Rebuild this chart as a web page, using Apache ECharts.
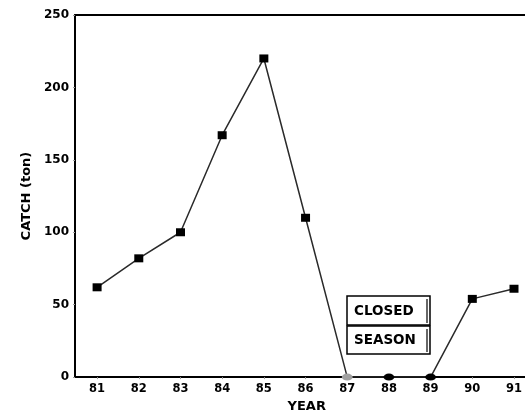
<!DOCTYPE html>
<html>
<head>
<meta charset="utf-8">
<script src="https://cdn.jsdelivr.net/npm/echarts@6/dist/echarts.min.js"></script>
<style>
  html, body { margin: 0; padding: 0; background: #fff; }
  #chart { width: 525px; height: 418px; }
</style>
</head>
<body>
<div id="chart"></div>
<script>
// Annual catch by fishing year
const years = [81, 82, 83, 84, 85, 86, 87, 88, 89, 90, 91];
const catchTon = [62, 82, 100, 167, 220, 110, 0, 0, 0, 54, 61];
// Years with the fishery closed
const closedYears = [87, 88, 89];
const yTicks = [0, 50, 100, 150, 200, 250];

const FONT = '"DejaVu Sans", "Liberation Sans", Arial, sans-serif';

const points = years.map((yr, i) => {
  const closed = closedYears.includes(yr);
  return {
    value: [yr, catchTon[i]],
    symbol: closed ? 'circle' : 'rect',
    symbolSize: closed ? [11, 7] : [9, 8],
    itemStyle: { color: yr === 87 ? '#a0a0a0' : '#000' }
  };
});

const chart = echarts.init(document.getElementById('chart'));
chart.setOption({
  animation: false,
  grid: { left: 75, right: 0, top: 15, bottom: 36, containLabel: false },
  xAxis: [{
    type: 'value',
    min: 80.47,
    max: 91.25,
    name: 'YEAR',
    nameLocation: 'middle',
    nameGap: 21,
    nameTextStyle: { fontFamily: FONT, fontWeight: 'bold', fontSize: 13, color: '#000', padding: [0, 0, 0, 14] },
    axisLine: { lineStyle: { color: '#000', width: 2 } },
    axisTick: { show: true, customValues: years, length: 2, lineStyle: { color: '#999', width: 1 } },
    axisLabel: { customValues: years, fontFamily: FONT, fontWeight: 'bold', fontSize: 11.5, color: '#000', margin: 6 },
    splitLine: { show: false }
  }, {
    type: 'value',
    position: 'top',
    min: 80.47,
    max: 91.25,
    axisLine: { show: true, onZero: false, lineStyle: { color: '#000', width: 2 } },
    axisTick: { show: false },
    axisLabel: { show: false },
    splitLine: { show: false }
  }],
  yAxis: {
    type: 'value',
    min: yTicks[0],
    max: yTicks[yTicks.length - 1],
    interval: 50,
    name: 'CATCH (ton)',
    nameLocation: 'middle',
    nameGap: 38,
    nameRotate: 90,
    nameTextStyle: { fontFamily: FONT, fontWeight: 'bold', fontSize: 13, color: '#000' },
    axisLine: { show: true, lineStyle: { color: '#000', width: 2 } },
    axisTick: { show: true, length: 2, lineStyle: { color: '#999', width: 1 } },
    axisLabel: { fontFamily: FONT, fontWeight: 'bold', fontSize: 12, color: '#000', margin: 6 },
    splitLine: { show: false }
  },
  series: [{
    type: 'line',
    data: points,
    lineStyle: { color: '#2a2a2a', width: 1.5 },
    z: 3
  }],
  graphic: [
    { type: 'rect', shape: { x: 347, y: 296, width: 83, height: 29 }, style: { fill: '#fff', stroke: '#000', lineWidth: 1.5 } },
    { type: 'rect', shape: { x: 347, y: 326, width: 83, height: 28 }, style: { fill: '#fff', stroke: '#000', lineWidth: 1.5 } },
    { type: 'line', shape: { x1: 427, y1: 299, x2: 427, y2: 323 }, style: { stroke: '#000', lineWidth: 1.2 } },
    { type: 'line', shape: { x1: 427, y1: 329, x2: 427, y2: 352 }, style: { stroke: '#000', lineWidth: 1.2 } },
    { type: 'text', style: { x: 354, y: 311, text: 'CLOSED', fontFamily: FONT, fontWeight: 'bold', fontSize: 13.5, fill: '#000', verticalAlign: 'middle' } },
    { type: 'text', style: { x: 354, y: 340, text: 'SEASON', fontFamily: FONT, fontWeight: 'bold', fontSize: 13.5, fill: '#000', verticalAlign: 'middle' } }
  ]
});
</script>
</body>
</html>
